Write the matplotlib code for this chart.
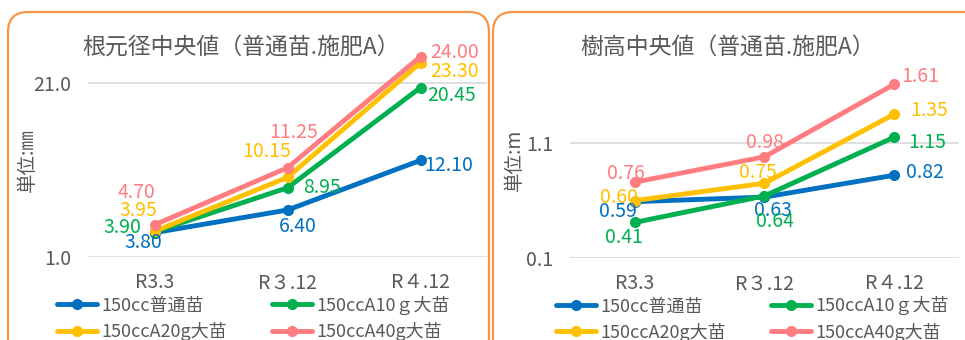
import matplotlib.pyplot as plt
from matplotlib.patches import FancyBboxPatch

plt.rcParams['font.family'] = ['Noto Sans CJK JP', 'DejaVu Sans']

# data
categories = ['R3.3', 'R３.12', 'R４.12']
series_names = ['150cc普通苗', '150ccA10ｇ大苗', '150ccA20g大苗', '150ccA40g大苗']
colors = ['#0070C0', '#00B050', '#FFC000', '#FF7C80']

diameter = [[3.80, 6.40, 12.10],
            [3.90, 8.95, 20.45],
            [3.95, 10.15, 23.30],
            [4.70, 11.25, 24.00]]
height = [[0.59, 0.63, 0.82],
          [0.41, 0.64, 1.15],
          [0.60, 0.75, 1.35],
          [0.76, 0.98, 1.61]]

# label offsets in pixels (dx, dy) per series / point
off_left = [[(-11, -10), (10, -17), (28, -5)],
            [(-32, 4), (34, 0), (31, -8)],
            [(-16, 21), (-21, 26), (34, -9)],
            [(-18, 32), (6, 35), (34, 4)]]
off_right = [[(-17, -10), (8, -13), (31, 3)],
             [(-11, -15), (10, -26), (33, -5)],
             [(-16, 3), (-7, 11), (35, 4)],
             [(-9, 9), (0, 14), (26, 8)]]

gray = '#595959'
fig = plt.figure(figsize=(9.65, 3.4), dpi=100)

# rounded orange frames (pixel coords)
for x0, x1 in [(8, 489), (493, 990)]:
    fig.patches.append(FancyBboxPatch((x0, -30), x1 - x0, 358,
                                      boxstyle='round,pad=0,rounding_size=20',
                                      transform=None, fill=False,
                                      edgecolor='#F79646', linewidth=1.6))


def draw(ax, data, offsets, ylim, ticks, fmt, title, tx, ylabel, yx, leg_x):
    x = range(len(categories))
    lines = []
    for vals, c, name, offs in zip(data, colors, series_names, offsets):
        ln, = ax.plot(x, vals, color=c, lw=3.5, marker='o', ms=7,
                      solid_capstyle='round', label=name)
        lines.append(ln)
        for xi, v, (dx, dy) in zip(x, vals, offs):
            ax.annotate(fmt.format(v), (xi, v), xytext=(dx, dy),
                        textcoords='offset pixels', ha='center', va='center',
                        color=c, fontsize=14, annotation_clip=False)
    ax.set_xlim(-0.5, 2.5)
    ax.set_ylim(*ylim)
    ax.set_yticks(ticks)
    ax.set_yticklabels(['{:.1f}'.format(t) for t in ticks])
    ax.set_xticks(list(x))
    ax.set_xticklabels(categories)
    ax.grid(axis='y', color='#D9D9D9', lw=1.2)
    ax.set_axisbelow(True)
    for s in ax.spines.values():
        s.set_visible(False)
    ax.tick_params(length=0, colors=gray, labelsize=14, pad=12)
    ax.tick_params(axis='x', pad=11)
    fig.text(tx / 965, 1 - 47 / 340, title, color=gray, fontsize=16.5,
             ha='center', va='center')
    fig.text(yx / 965, 1 - 160 / 340, ylabel, color=gray, fontsize=14,
             rotation=90, ha='center', va='center')
    order = [0, 2, 1, 3]
    ax.legend([lines[i] for i in order], [series_names[i] for i in order],
              loc='upper left', bbox_to_anchor=(leg_x, -0.15), ncol=2,
              frameon=False, fontsize=13, handlelength=2.2,
              handletextpad=0.25, columnspacing=2.5, labelspacing=0.4,
              labelcolor=gray, borderaxespad=0)


ax1 = fig.add_axes([0.0912, 0.244, 0.4135, 0.615])
draw(ax1, diameter, off_left, (1, 25), [1, 21], '{:.2f}',
     '根元径中央値（普通苗.施肥A）', 241, '単位:㎜', 27, -0.095)

ax2 = fig.add_axes([0.5907, 0.241, 0.403, 0.609])
draw(ax2, height, off_right, (0.1, 1.9), [0.1, 1.1], '{:.2f}',
     '樹高中央値（普通苗.施肥A）', 728, '単位:m', 514, -0.055)

fig.savefig('out.png', dpi=100)
